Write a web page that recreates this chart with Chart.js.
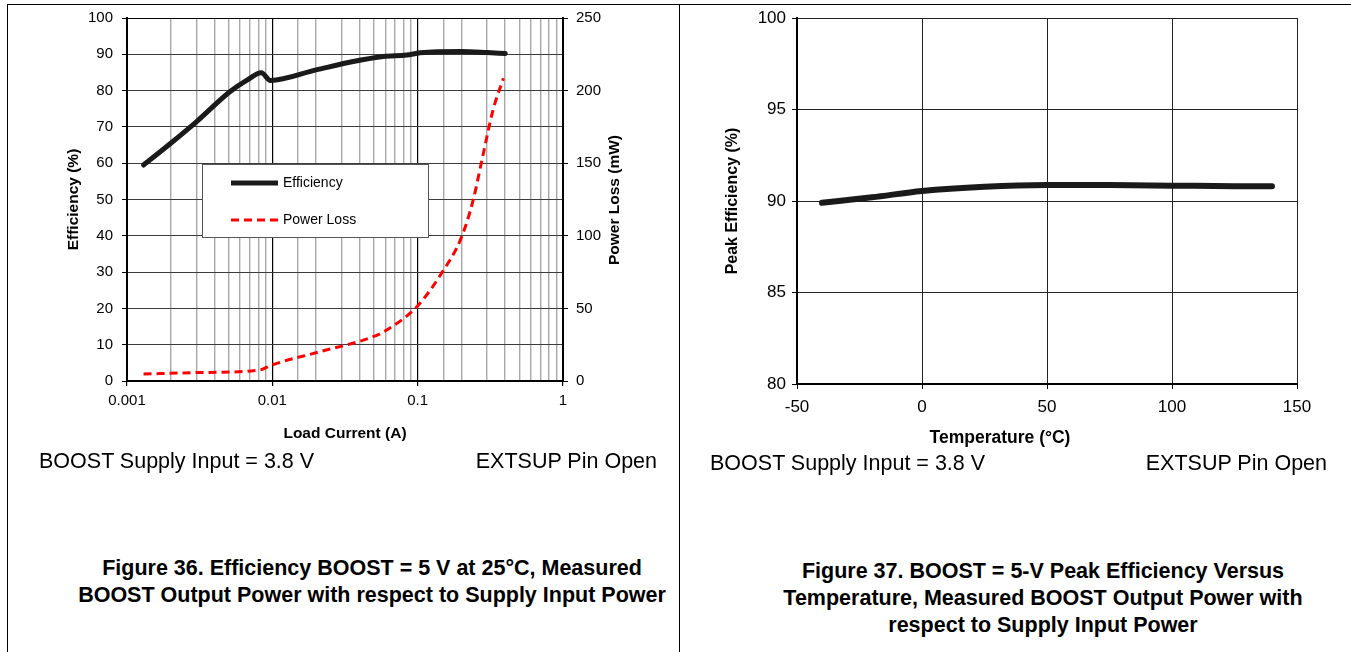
<!DOCTYPE html>
<html lang="en">
<head>
    <meta charset="UTF-8">
    <title>BOOST Efficiency</title>
    <script src="https://cdn.jsdelivr.net/npm/chart.js"></script>
    <style>
        body { margin: 0; background: #fff; }
        .page { position: relative; width: 1351px; height: 652px; overflow: hidden; font-family: Arial, "Liberation Sans", sans-serif; color: #000; }
        .rule { position: absolute; background: #000; }
        .box { position: absolute; top: 0; height: 450px; }
        .txt { position: absolute; white-space: nowrap; line-height: 24px; }
        .note { font-size: 21.5px; }
        .cap { font-size: 21.5px; font-weight: bold; text-align: center; line-height: 27px; }
        .ttl { font-size: 15.5px; font-weight: bold; }
    </style>
</head>
<body>
<div class="page">
    <div class="rule" style="left:7px; top:4px; width:1344px; height:1px;"></div>
    <div class="rule" style="left:7px; top:4px; width:1px; height:648px;"></div>
    <div class="rule" style="left:679px; top:4px; width:1px; height:648px;"></div>

    <div class="box" style="left:0; width:680px;"><canvas id="effChart"></canvas></div>
    <div class="box" style="left:680px; width:671px;"><canvas id="tempChart"></canvas></div>

    <div class="txt ttl" style="left:514px; top:188px; width:200px; text-align:center; transform:rotate(-90deg);">Power Loss (mW)</div>
    <div class="txt ttl" style="left:900px; top:425px; width:200px; text-align:center; font-size:17.5px;">Temperature (°C)</div>

    <div class="txt note" style="left:39px; top:449px;">BOOST Supply Input = 3.8 V</div>
    <div class="txt note" style="left:357px; top:449px; width:300px; text-align:right;">EXTSUP Pin Open</div>
    <div class="txt note" style="left:710px; top:451px;">BOOST Supply Input = 3.8 V</div>
    <div class="txt note" style="left:1027px; top:451px; width:300px; text-align:right;">EXTSUP Pin Open</div>

    <div class="txt cap" style="left:72px; top:555px; width:600px;">Figure 36. Efficiency BOOST = 5 V at 25°C, Measured<br>BOOST Output Power with respect to Supply Input Power</div>
    <div class="txt cap" style="left:743px; top:558px; width:600px;">Figure 37. BOOST = 5-V Peak Efficiency Versus<br>Temperature, Measured BOOST Output Power with<br>respect to Supply Input Power</div>
</div>

<script>
    // Figure 36 - efficiency and power loss vs load current
    const loadCurrentEff = [0.0013, 0.002, 0.003, 0.0051, 0.0067, 0.0084, 0.0097, 0.02, 0.036, 0.058, 0.084, 0.104, 0.2, 0.3, 0.4];
    const efficiency = [59.5, 65.5, 71.4, 79.7, 82.9, 84.9, 82.8, 85.7, 88.0, 89.4, 89.8, 90.4, 90.8, 90.5, 90.2];

    const loadCurrentLoss = [0.0013, 0.003, 0.0082, 0.0099, 0.0213, 0.0494, 0.0612, 0.0988, 0.146, 0.201, 0.241, 0.28, 0.33, 0.389];
    const powerLoss = [4.8, 5.8, 7.6, 11, 20.2, 30.5, 35.1, 51.2, 74.2, 99.4, 124.7, 154.5, 186.6, 208.5];

    const decadeLabels = ['0.001', '0.01', '0.1', '1'];

    // Figure 37 - peak efficiency vs temperature
    const temperature = [-40, -20, 0, 25, 50, 75, 100, 125, 140];
    const peakEfficiency = [89.9, 90.2, 90.55, 90.78, 90.87, 90.87, 90.84, 90.81, 90.8];

    Chart.defaults.font.family = 'Arial, "Liberation Sans", sans-serif';
    Chart.defaults.color = '#000';

    const isDecade = v => Math.abs(Math.log10(v) - Math.round(Math.log10(v))) < 1e-6;

    // force fixed axis sizes so the plot areas land where the original ones are
    function fixWidth(w) {
        return scale => { scale.width = w; scale.paddingTop = 0; scale.paddingBottom = 0; };
    }
    function fixHeight(h) {
        return scale => { scale.height = h; scale.paddingLeft = 0; scale.paddingRight = 0; };
    }

    const legendBox = {
        id: 'legendBox',
        beforeDatasetsDraw(chart) {
            const ctx = chart.ctx;
            ctx.save();
            ctx.fillStyle = '#fff';
            ctx.fillRect(203, 164.5, 225, 73);
            ctx.strokeStyle = '#555';
            ctx.lineWidth = 1;
            ctx.strokeRect(202.5, 164.5, 226, 73);

            ctx.lineWidth = 5;
            ctx.strokeStyle = '#1a1a1a';
            ctx.beginPath(); ctx.moveTo(231, 183); ctx.lineTo(278, 183); ctx.stroke();

            ctx.lineWidth = 3;
            ctx.strokeStyle = '#ff0000';
            ctx.setLineDash([8, 5]);
            ctx.beginPath(); ctx.moveTo(231, 220); ctx.lineTo(279, 220); ctx.stroke();
            ctx.setLineDash([]);

            ctx.fillStyle = '#000';
            ctx.font = '14px Arial, "Liberation Sans", sans-serif';
            ctx.textBaseline = 'middle';
            ctx.fillText('Efficiency', 283, 183);
            ctx.fillText('Power Loss', 283, 220);
            ctx.restore();
        }
    };

    new Chart(document.getElementById('effChart'), {
        type: 'line',
        data: {
            datasets: [{
                label: 'Efficiency',
                data: loadCurrentEff.map((x, i) => ({ x: x, y: efficiency[i] })),
                yAxisID: 'y',
                borderColor: '#1a1a1a',
                borderWidth: 5,
                borderCapStyle: 'round',
                borderJoinStyle: 'round',
                pointRadius: 0,
                cubicInterpolationMode: 'monotone',
                fill: false
            }, {
                label: 'Power Loss',
                data: loadCurrentLoss.map((x, i) => ({ x: x, y: powerLoss[i] })),
                yAxisID: 'y1',
                borderColor: '#ff0000',
                borderWidth: 3,
                borderDash: [8, 5],
                pointRadius: 0,
                cubicInterpolationMode: 'monotone',
                fill: false
            }]
        },
        options: {
            responsive: true,
            maintainAspectRatio: false,
            animation: false,
            layout: { padding: { top: 18, left: 0, right: 0, bottom: 0 } },
            plugins: { legend: { display: false }, tooltip: { enabled: false } },
            scales: {
                x: {
                    type: 'logarithmic',
                    min: 0.001,
                    max: 1,
                    afterFit: fixHeight(69),
                    border: { color: '#000', width: 2 },
                    grid: {
                        color: c => (c.tick && isDecade(c.tick.value)) ? '#000' : '#a8a8a8',
                        lineWidth: c => (c.tick && isDecade(c.tick.value)) ? 1.2 : 1.4,
                        tickColor: c => (c.tick && isDecade(c.tick.value)) ? '#000' : 'rgba(0,0,0,0)',
                        tickLength: 5
                    },
                    ticks: {
                        autoSkip: false,
                        maxRotation: 0,
                        padding: 6,
                        font: { size: 15 },
                        callback: v => isDecade(v) ? decadeLabels[Math.round(Math.log10(v)) + 3] : ''
                    },
                    title: {
                        display: true,
                        text: 'Load Current (A)',
                        font: { size: 15.5, weight: 'bold' },
                        padding: { top: 0, bottom: 7 }
                    }
                },
                y: {
                    position: 'left',
                    min: 0,
                    max: 100,
                    afterFit: fixWidth(127),
                    border: { color: '#000', width: 2 },
                    grid: {
                        color: c => c.tick && c.tick.value === 100 ? '#000' : '#3c3c3c',
                        lineWidth: 1,
                        tickColor: '#000',
                        tickLength: 5
                    },
                    ticks: { stepSize: 10, padding: 9, font: { size: 15 } },
                    title: {
                        display: true,
                        text: 'Efficiency (%)',
                        font: { size: 15.5, weight: 'bold' },
                        padding: { top: 64, bottom: 0 }
                    }
                },
                y1: {
                    position: 'right',
                    min: 0,
                    max: 250,
                    afterFit: fixWidth(117),
                    border: { color: '#000', width: 2 },
                    grid: { drawOnChartArea: false, tickColor: '#000', tickLength: 5 },
                    ticks: { stepSize: 50, padding: 8, font: { size: 15 } }
                }
            }
        },
        plugins: [legendBox]
    });

    new Chart(document.getElementById('tempChart'), {
        type: 'line',
        data: {
            datasets: [{
                label: 'Peak Efficiency',
                data: temperature.map((t, i) => ({ x: t, y: peakEfficiency[i] })),
                borderColor: '#1a1a1a',
                borderWidth: 6,
                borderCapStyle: 'round',
                pointRadius: 0,
                cubicInterpolationMode: 'monotone',
                fill: false
            }]
        },
        options: {
            responsive: true,
            maintainAspectRatio: false,
            animation: false,
            layout: { padding: { top: 18, left: 0, right: 54, bottom: 0 } },
            plugins: { legend: { display: false }, tooltip: { enabled: false } },
            scales: {
                x: {
                    type: 'linear',
                    min: -50,
                    max: 150,
                    afterFit: fixHeight(66),
                    border: { color: '#000', width: 2 },
                    grid: { color: '#222', lineWidth: 1, tickColor: '#000', tickLength: 5 },
                    ticks: { stepSize: 50, maxRotation: 0, padding: 8, font: { size: 17 } }
                },
                y: {
                    min: 80,
                    max: 100,
                    afterFit: fixWidth(117),
                    border: { color: '#000', width: 2 },
                    grid: { color: '#222', lineWidth: 1, tickColor: '#000', tickLength: 5 },
                    ticks: { stepSize: 5, padding: 6, font: { size: 17 } },
                    title: {
                        display: true,
                        text: 'Peak Efficiency (%)',
                        font: { size: 16, weight: 'bold' },
                        padding: { top: 43, bottom: 0 }
                    }
                }
            }
        }
    });
</script>
</body>
</html>
